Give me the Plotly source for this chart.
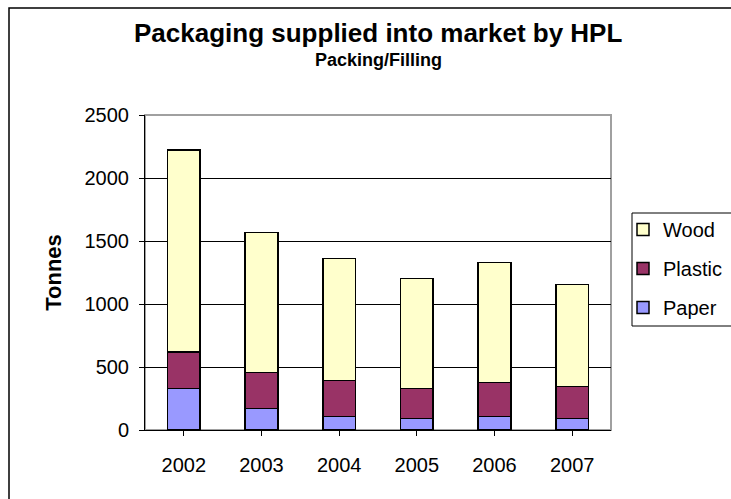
import plotly.graph_objects as go

years = ["2002", "2003", "2004", "2005", "2006", "2007"]
paper = [328, 169, 106, 90, 106, 90]
plastic = [291, 286, 285, 241, 270, 254]
wood = [1603, 1111, 971, 873, 955, 812]

FONT = "Liberation Sans, Arial, sans-serif"
L, R, T, B = 145, 611, 115, 430
W, H = 731, 499

fig = go.Figure()
series = [("Paper", paper, "#9999FF", 3), ("Plastic", plastic, "#993366", 2), ("Wood", wood, "#FFFFCC", 1)]
for name, vals, col, rank in series:
    fig.add_trace(go.Bar(
        x=years, y=vals, name=name, legendgroup=name, legendrank=rank,
        marker=dict(color=col, line=dict(color="black", width=1.5)),
    ))

pw, ph = R - L, B - T
def px(x):
    return (x - L) / pw
def py(y):
    return (B - y) / ph

fig.update_layout(
    width=W, height=H,
    margin=dict(l=L, r=W - R, t=T, b=H - B, autoexpand=False),
    barmode="stack", bargap=0.58,
    paper_bgcolor="white", plot_bgcolor="white",
    font=dict(family=FONT, size=20, color="black"),
    showlegend=True,
    legend=dict(
        x=px(623), y=py(210), xanchor="left", yanchor="top",
        borderwidth=0, bgcolor="rgba(0,0,0,0)",
        traceorder="grouped", tracegroupgap=10,
        font=dict(family=FONT, size=20),
    ),
    xaxis=dict(
        showline=True, linecolor="black", linewidth=1,
        ticks="outside", ticklen=5, tickcolor="black",
        showgrid=False, ticklabelstandoff=12,
        tickfont=dict(size=20),
    ),
    yaxis=dict(
        range=[0, 2500], dtick=500,
        showline=True, linecolor="black", linewidth=1,
        ticks="outside", ticklen=5, tickcolor="black",
        showgrid=True, gridcolor="black", gridwidth=1,
        zeroline=False, ticklabelstandoff=6,
        tickfont=dict(size=20),
        title=dict(text="<b>Tonnes</b>", font=dict(size=22), standoff=16),
    ),
    shapes=[
        dict(type="rect", xref="paper", yref="paper", x0=0, x1=1, y0=0, y1=1,
             line=dict(color="#A0A0A0", width=2), layer="below"),
        dict(type="rect", xref="paper", yref="paper",
             x0=px(9), x1=px(760), y0=py(530), y1=py(8),
             line=dict(color="black", width=1.5), layer="below"),
        dict(type="rect", xref="paper", yref="paper",
             x0=px(632), x1=px(745), y0=py(326), y1=py(213),
             line=dict(color="black", width=1), fillcolor="white", layer="below"),
    ],
    annotations=[
        dict(text="<b>Packaging supplied into market by HPL</b>", xref="paper", yref="paper",
             x=0.5, y=py(33), xanchor="center", yanchor="middle", showarrow=False,
             font=dict(family=FONT, size=26)),
        dict(text="<b>Packing/Filling</b>", xref="paper", yref="paper",
             x=0.5, y=py(60), xanchor="center", yanchor="middle", showarrow=False,
             font=dict(family=FONT, size=18)),
    ],
)

fig.write_html("out.html")
